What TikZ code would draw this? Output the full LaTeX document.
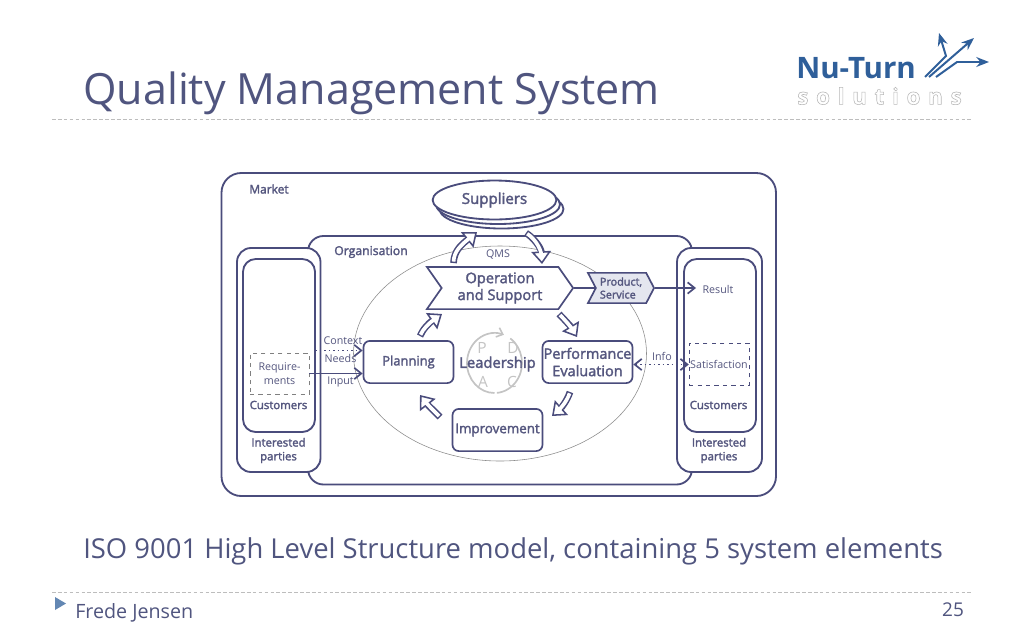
\documentclass[tikz,border=0pt]{standalone}
\usepackage{fontspec}
\setmainfont{Open Sans}
\usetikzlibrary{arrows.meta,calc,shapes.geometric,shapes.symbols}
\definecolor{linedark}{HTML}{4A4C7C}
\definecolor{textdark}{HTML}{55577F}
\definecolor{titleblue}{HTML}{50557F}
\definecolor{logoblue}{HTML}{2F5F9A}
\definecolor{dashgrey}{HTML}{BDBDBD}
\definecolor{pdcagrey}{HTML}{C4C4C4}
\definecolor{productfill}{HTML}{E4E6EF}
\def\semi{\addfontfeature{FakeBold=2.2}}
\def\outlinetext#1{\special{pdf:code 2 Tr 0.4 w 0.72 G 1 g}#1\special{pdf:code 0 Tr}}
\tikzset{
	frame/.style={draw=linedark, line width=1.3pt, fill=white, rounded corners=#1},
	stepnode/.style={draw=linedark, line width=1.2pt, fill=white, rounded corners=4.5pt, minimum width=64pt, minimum height=30pt, inner sep=0pt, align=center, text=textdark, font=\fontsize{10.3}{12.3}\selectfont\semi},
	small/.style={text=textdark, align=center, inner sep=0pt, font=\fontsize{7.6}{9.6}\selectfont},
	smallbold/.style={text=textdark, align=center, inner sep=0pt, font=\fontsize{8.1}{9.8}\selectfont\semi},
	pdca/.style={text=pdcagrey, inner sep=0pt, font=\fontsize{11}{13}\selectfont},
	pdcaring/.style={draw=pdcagrey, line width=1.2pt},
	rule/.style={draw=dashgrey, line width=0.5pt, dash pattern=on 2.6pt off 1.6pt},
	thinarrow/.style={draw=linedark, line width=1.2pt, -{Straight Barb[length=5pt,width=8pt,line width=1.2pt]}},
	dotarrow/.style={draw=linedark, line width=1.2pt, dotted, -{Straight Barb[length=5pt,width=8pt,line width=1.2pt,sep=0pt]}},
	arrowouter/.style={draw=linedark, line width=4.8pt, -{Triangle[length=9pt,width=14pt,fill=white,line width=1.1pt]}},
	arrowinner/.style={draw=white, line width=2.6pt, shorten >=6pt, shorten <=1pt},
	logoline/.style={draw=logoblue, line width=1.4pt, -{Stealth[length=9pt,width=7pt]}},
}
\def\hollowarrow(#1)(#2)(#3)(#4){\draw[arrowouter] (#1) .. controls (#2) and (#3) .. (#4); \draw[arrowinner] (#1) .. controls (#2) and (#3) .. (#4);}

\begin{document}
\begin{tikzpicture}[x=0.025cm, y=-0.025cm]
	\useasboundingbox (0, 0) rectangle (1024, 640);
	\fill[white] (0, 0) rectangle (1024, 640);

	%%%%% page %%%%%
	\node[anchor=west, inner sep=0pt, text=titleblue, font=\fontsize{30.6}{36}\selectfont] (title) at (83, 93) {Quality Management System};
	\draw[rule] (52, 119.5) -- (972, 119.5);
	\node[anchor=west, inner sep=0pt, text=titleblue, font=\fontsize{19.5}{24}\selectfont] (caption) at (83, 551.5) {ISO 9001 High Level Structure model, containing 5 system elements};
	\draw[rule] (52, 592.5) -- (972, 592.5);
	\fill[logoblue!75] (55, 597) -- (66, 603.5) -- (55, 610) -- cycle;
	\node[anchor=west, inner sep=0pt, text=titleblue, font=\fontsize{14}{16}\selectfont] (author) at (75, 612.5) {Frede Jensen};
	\node[inner sep=0pt, text=titleblue, font=\fontsize{13.5}{16}\selectfont] (pagenr) at (953, 610) {25};

	%%%%% logo %%%%%
	\node[anchor=west, inner sep=0pt, text=logoblue, font=\fontsize{21}{24}\selectfont\bfseries] (nuturn) at (796, 68) {Nu-Turn};
	\node[anchor=west, inner sep=0pt, text=black!30, font=\fontsize{16}{18}\selectfont\bfseries\addfontfeature{LetterSpace=34}] (solutions) at (797, 96) {\outlinetext{solutions}};
	\draw[logoline] (925, 77) -- (946, 56) -- (939, 33);
	\draw[logoline] (929, 77) -- (974, 38);
	\draw[logoline] (936, 77) -- (957, 62) -- (989, 62);

	%%%%% frames %%%%%
	\draw[frame=14pt] (221.5, 173) rectangle (776, 496);
	\draw[frame=11pt] (308, 236) rectangle (692, 484.5);
	\draw[frame=10pt] (237, 248) rectangle (320.5, 472);
	\draw[frame=9pt] (243, 259) rectangle (315, 432);
	\draw[frame=10pt] (677, 248) rectangle (762, 472);
	\draw[frame=9pt] (684, 259) rectangle (756, 432);
	\draw[black!45, line width=0.4pt] (500, 353.5) ellipse (146.5 and 107.5);

	\node[smallbold, font=\fontsize{8.5}{10}\selectfont\semi] (market) at (269, 189) {Market};
	\node[smallbold, font=\fontsize{8.7}{10}\selectfont\semi] (organisation) at (371, 252) {Organisation};
	\node[small] (qms) at (498, 254.5) {QMS};

	%%%%% left side %%%%%
	\node[draw=black!50, dashed, line width=0.5pt, minimum width=42pt, minimum height=29pt, inner sep=0pt, small] (require) at (279.5, 373.5) {Require-\\ments};
	\node[smallbold] (custleft) at (278.5, 405) {Customers};
	\node[smallbold] (partleft) at (278.5, 450.5) {Interested\\parties};

	%%%%% right side %%%%%
	\node[draw=linedark, dashed, line width=0.5pt, minimum width=42.5pt, minimum height=30pt, inner sep=0pt] (satbox) at (719, 364) {};
	\node[small] (satisfaction) at (719, 364.5) {Satisfaction};
	\node[smallbold] (custright) at (718.5, 405) {Customers};
	\node[smallbold] (partright) at (719, 450.5) {Interested\\parties};
	\node[small] (result) at (718, 289) {Result};

	%%%%% suppliers %%%%%
	\draw[frame=0pt] (501.5, 209) ellipse (62 and 19.5);
	\draw[frame=0pt] (498, 204.5) ellipse (62 and 19.5);
	\node[draw=linedark, line width=1.3pt, fill=white, ellipse, minimum width=88pt, minimum height=27.7pt, inner sep=0pt, text=textdark, font=\fontsize{10.7}{12}\selectfont\semi] (suppliers) at (494.5, 200) {Suppliers};

	%%%%% elements %%%%%
	\node[signal, signal to=east, signal from=west, signal pointer angle=110, draw=linedark, line width=1.2pt, fill=white, minimum width=104pt, minimum height=30pt, inner sep=0pt, align=center, text=textdark, font=\fontsize{10.4}{12}\selectfont\semi] (operation) at (500, 288) {Operation\\and Support};
	\node[signal, signal to=east, signal from=west, signal pointer angle=125, draw=linedark, line width=1.2pt, fill=productfill, minimum width=47pt, minimum height=21.5pt, inner sep=0pt, align=left, text=textdark, font=\fontsize{7.7}{9.2}\selectfont\semi] (product) at (621, 288) {Product,\\Service};
	\node[stepnode, font=\fontsize{9.2}{12}\selectfont\semi] (planning) at (408.5, 362) {Planning};
	\node[stepnode] (performance) at (587.5, 362) {Performance\\Evaluation};
	\node[stepnode, font=\fontsize{9.5}{12}\selectfont\semi] (improvement) at (497.5, 430) {Improvement};

	%%%%% leadership %%%%%
	\draw[pdcaring, -{Straight Barb[length=4pt,width=7pt,line width=1.1pt]}] (494.5, 393) arc[start angle=90, end angle=290, x radius=27.5, y radius=30];
	\draw[pdcaring] (494.5, 363) ++(305:27.5 and 30) arc[start angle=305, end angle=445, x radius=27.5, y radius=30];
	\node[pdca] (lp) at (482, 347.5) {P};
	\node[pdca] (ld) at (513, 347.5) {D};
	\node[pdca] (la) at (483, 381.5) {A};
	\node[pdca] (lc) at (512, 381.5) {C};
	\node[inner sep=0pt, text=textdark, font=\fontsize{10.5}{12.5}\selectfont\semi] (leadership) at (497.5, 364) {Leadership};

	%%%%% connectors %%%%%
	\draw[draw=linedark, line width=1.2pt] (operation.east) -- (product.west);
	\coordinate (resultin) at (696, 288);
	\draw[thinarrow] (product.east) -- (resultin);
	\coordinate (contextfrom) at (315, 350.5);
	\draw[dotarrow] (contextfrom) -- (planning.west |- contextfrom);
	\draw[thinarrow] (require.east |- 0, 373.5) -- (planning.west |- 0, 373.5);
	\draw[dotarrow, {Straight Barb[length=5pt,width=8pt,line width=1.2pt]}-{Straight Barb[length=5pt,width=8pt,line width=1.2pt]}] (performance.east |- 0, 364.5) -- (satbox.west |- 0, 364.5);
	\node[small] (context) at (343, 341) {Context};
	\node[small] (needs) at (340.5, 358.5) {Needs};
	\node[small] (input) at (340.5, 382) {Input};
	\node[small] (info) at (662, 356) {Info};

	%%%%% block arrows %%%%%
	\coordinate (supin) at (453.5, 263);
	\coordinate (supout) at (477, 232);
	\coordinate (opfrom) at (526, 233);
	\coordinate (opto) at (542, 264);
	\coordinate (planup) at (420, 336);
	\coordinate (opdown) at (442, 314);
	\coordinate (opright) at (559, 314);
	\coordinate (perfdown) at (577, 337);
	\coordinate (perfout) at (570, 392);
	\coordinate (imprin) at (552, 416);
	\coordinate (imprleft) at (440, 417);
	\coordinate (planin) at (420, 395);
	\hollowarrow(supin)(454, 251)(461, 245)(supout)
	\hollowarrow(opfrom)(534, 238)(541, 248)(opto)
	\hollowarrow(planup)(423, 329)(429, 323)(opdown)
	\hollowarrow(opright)(565, 320)(571, 327)(perfdown)
	\hollowarrow(perfout)(567, 401)(561, 408)(imprin)
	\hollowarrow(imprleft)(434, 411)(427, 404)(planin)
\end{tikzpicture}
\end{document}
